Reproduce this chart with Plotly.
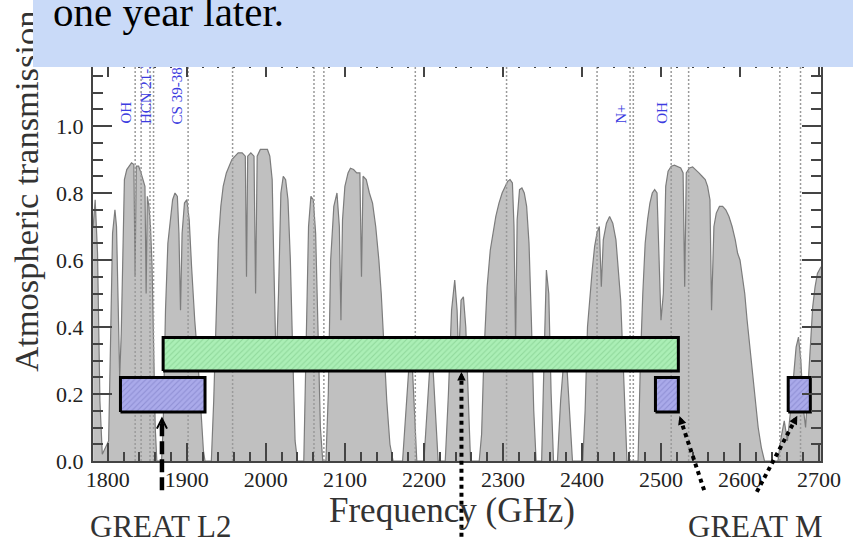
import plotly.graph_objects as go

# ---------------- data ----------------
freq = [1781.5, 1784, 1787, 1790, 1793, 1797, 1801, 1803, 1806, 1809, 1811, 1813, 1815, 1817,
        1819, 1821, 1824, 1827, 1830, 1833, 1834.5, 1836, 1839, 1842, 1845, 1847, 1848.5, 1850,
        1852, 1854, 1856, 1858, 1860, 1862, 1868, 1870, 1873, 1876, 1879, 1882, 1885, 1888,
        1890, 1892, 1894, 1897, 1900, 1903, 1906, 1910, 1914, 1918, 1921, 1923, 1931, 1934,
        1937, 1940, 1943, 1946, 1950, 1953, 1957, 1961, 1965, 1970, 1974, 1975.5, 1977, 1981,
        1985, 1987, 1989, 1993, 1998, 2002, 2005, 2008, 2010, 2013, 2016, 2019, 2022, 2025,
        2028, 2031, 2034, 2037, 2040, 2048, 2051, 2054, 2057, 2060, 2063, 2066, 2069, 2072,
        2076, 2079, 2082, 2086, 2090, 2093, 2095, 2097, 2100, 2104, 2107, 2111, 2115, 2119,
        2121, 2123, 2127, 2131, 2135, 2139, 2143, 2146, 2149, 2153, 2157, 2161, 2173, 2177,
        2181, 2185, 2188, 2191, 2200, 2204, 2208, 2211, 2215, 2218, 2227, 2231, 2235, 2239,
        2242, 2244, 2247, 2250, 2253, 2256, 2259, 2270, 2273, 2276, 2280, 2284, 2287, 2291,
        2295, 2299, 2303, 2306, 2309, 2312, 2314, 2316, 2318, 2321, 2324, 2327, 2330, 2333,
        2336, 2339, 2342, 2349, 2352, 2355, 2358, 2361, 2364, 2369, 2373, 2377, 2381, 2385,
        2388, 2401, 2404, 2407, 2410, 2413, 2416, 2419, 2422, 2424.5, 2427, 2431, 2435, 2439,
        2443, 2446, 2449, 2452, 2455, 2457, 2471, 2474, 2477, 2480, 2483, 2486, 2489, 2492,
        2495, 2497, 2500, 2503, 2506, 2509, 2513, 2517, 2521, 2525, 2528, 2530, 2532, 2536,
        2540, 2544, 2548, 2552, 2556, 2559, 2562, 2564, 2567, 2570, 2574, 2578, 2582, 2586,
        2590, 2594, 2597, 2600, 2603, 2606, 2609, 2612, 2615, 2619, 2623, 2627, 2631, 2648,
        2652, 2656, 2660, 2664, 2668, 2671, 2674, 2677, 2680, 2683, 2686, 2689, 2692, 2695,
        2698, 2702.5]
trans = [0.70, 0.78, 0.62, 0.18, 0.02, 0.04, 0.06, 0.30, 0.68, 0.75, 0.70, 0.48, 0.25, 0.38,
         0.66, 0.84, 0.87, 0.88, 0.89, 0.885, 0.55, 0.88, 0.88, 0.86, 0.84, 0.82, 0.50, 0.79,
         0.76, 0.70, 0.58, 0.35, 0.10, 0.0, 0.0, 0.10, 0.45, 0.65, 0.72, 0.78, 0.80, 0.79,
         0.68, 0.45, 0.68, 0.77, 0.78, 0.72, 0.58, 0.42, 0.30, 0.15, 0.03, 0.0, 0.0, 0.18,
         0.42, 0.66, 0.76, 0.82, 0.86, 0.88, 0.90, 0.91, 0.92, 0.92, 0.91, 0.55, 0.91, 0.92,
         0.91, 0.50, 0.91, 0.93, 0.93, 0.93, 0.91, 0.84, 0.60, 0.28, 0.50, 0.80, 0.85, 0.84,
         0.78, 0.60, 0.32, 0.06, 0.0, 0.0, 0.35, 0.70, 0.79, 0.78, 0.68, 0.40, 0.10, 0.0,
         0.0, 0.20, 0.60, 0.76, 0.80, 0.70, 0.42, 0.72, 0.82, 0.86, 0.874, 0.87, 0.86, 0.86,
         0.55, 0.85, 0.84, 0.80, 0.77, 0.70, 0.60, 0.50, 0.36, 0.18, 0.05, 0.0, 0.0, 0.14,
         0.28, 0.30, 0.14, 0.0, 0.0, 0.15, 0.30, 0.30, 0.12, 0.0, 0.0, 0.20, 0.45, 0.54,
         0.45, 0.30, 0.48, 0.49, 0.40, 0.20, 0.0, 0.0, 0.08, 0.32, 0.52, 0.63, 0.67, 0.73,
         0.77, 0.80, 0.82, 0.835, 0.84, 0.83, 0.70, 0.35, 0.72, 0.81, 0.815, 0.80, 0.76, 0.65,
         0.42, 0.15, 0.0, 0.0, 0.30, 0.57, 0.50, 0.20, 0.0, 0.0, 0.18, 0.30, 0.28, 0.10,
         0.0, 0.0, 0.15, 0.40, 0.50, 0.57, 0.64, 0.68, 0.70, 0.52, 0.66, 0.71, 0.73, 0.71,
         0.66, 0.58, 0.48, 0.30, 0.08, 0.0, 0.0, 0.30, 0.50, 0.65, 0.72, 0.77, 0.80, 0.81,
         0.80, 0.66, 0.42, 0.50, 0.82, 0.865, 0.88, 0.883, 0.88, 0.875, 0.86, 0.52, 0.86, 0.875,
         0.878, 0.87, 0.86, 0.85, 0.84, 0.82, 0.78, 0.45, 0.70, 0.74, 0.76, 0.76, 0.75, 0.73,
         0.70, 0.66, 0.62, 0.60, 0.55, 0.50, 0.42, 0.35, 0.28, 0.18, 0.10, 0.04, 0.0, 0.0,
         0.07, 0.12, 0.06, 0.15, 0.26, 0.34, 0.37, 0.30, 0.16, 0.10, 0.22, 0.36, 0.46, 0.52,
         0.56, 0.58]

line_freqs = [1834.6, 1842.1, 1853.4, 1857.9, 1901.6, 1957.9, 2060.9, 2073.4, 2189.1,
              2304.6, 2419.1, 2460.9, 2465.0, 2512.9, 2535.0, 2650.4, 2676.6]

species_names = ["OH", "HCN 21-20", "CS 39-38", "N+", "OH"]
species_freqs = [1822.5, 1848.4, 1887.5, 2448.5, 2501.0]

l2_band = [1816, 1923]
green_band = [1870, 2522]
m_bands = [[2493, 2522], [2661, 2689]]

x_ticks = [1800, 1900, 2000, 2100, 2200, 2300, 2400, 2500, 2600, 2700]
y_ticks = [0.0, 0.2, 0.4, 0.6, 0.8, 1.0]
y_ticktext = ["0.0", "0.2", "0.4", "0.6", "0.8", "1.0"]

# ---------------- layout constants ----------------
W, H = 853, 540
ML, MR, MT, MB = 93, 23, 59, 79
PW, PH = W - ML - MR, H - MT - MB
X_RANGE = [1781.25, 2702.5]
Y_RANGE = [0.0, 1.2]
XS = PW / (X_RANGE[1] - X_RANGE[0])
YS = PH / (Y_RANGE[1] - Y_RANGE[0])

BLUE_Y = (0.146, 0.249)
GREEN_Y = (0.269, 0.369)

FONT = "Liberation Serif"


def paper_x(px):
    return (px - ML) / PW


def paper_y(py):
    return (H - MB - py) / PH


def data_to_paper_y(t):
    return (t - Y_RANGE[0]) / (Y_RANGE[1] - Y_RANGE[0])


fig = go.Figure()

# spectrum
fig.add_trace(go.Scatter(x=freq, y=trans, mode="lines", fill="tozeroy",
                         fillcolor="#c0c0c0", line=dict(color="#7c7c7c", width=1.2),
                         hoverinfo="skip"))

# dotted line markers
lx, ly = [], []
for f in line_freqs:
    lx += [f, f, None]
    ly += [Y_RANGE[0], Y_RANGE[1], None]
fig.add_trace(go.Scatter(x=lx, y=ly, mode="lines",
                         line=dict(color="#9a9a9a", width=1.5, dash="2px,2px"),
                         hoverinfo="skip"))


def box_trace(band, ylev, bg, fg):
    x0, x1 = band
    y0, y1 = ylev
    return go.Scatter(x=[x0, x1, x1, x0, x0], y=[y0, y0, y1, y1, y0], mode="lines",
                      fill="toself", fillcolor=bg,
                      fillpattern=dict(shape="/", size=4, solidity=0.25,
                                       fgcolor=fg, bgcolor=bg, fillmode="replace"),
                      line=dict(color="black", width=3), hoverinfo="skip")


fig.add_trace(box_trace(green_band, GREEN_Y, "#abefb6", "#8fd89b"))
fig.add_trace(box_trace(l2_band, BLUE_Y, "#aaaaea", "#8e8ed4"))
for b in m_bands:
    fig.add_trace(box_trace(b, BLUE_Y, "#aaaaea", "#8e8ed4"))

# arrows: (tail_f, tail_t, head_f, head_t, style)
arrows = [
    (1868.5, -0.087, 1868.5, 0.133, "dash"),
    (2247.5, -0.25, 2247.5, 0.266, "dot"),
    (2554.6, -0.087, 2523.4, 0.134, "dot"),
    (2621.3, -0.092, 2672.5, 0.135, "dot"),
]

shapes = []
annotations = []
for tf, tt, hf, ht, style in arrows:
    if style == "dash":
        ln = dict(color="black", width=4.5, dash="13px,5px")
    else:
        ln = dict(color="black", width=4, dash="4px,4px")
    dxp = (tf - hf) * XS
    dyp = (ht - tt) * YS
    L = (dxp ** 2 + dyp ** 2) ** 0.5
    back = 4.0 / L
    sf = hf + (tf - hf) * back
    st = ht + (tt - ht) * back
    shapes.append(dict(type="line", xref="x", yref="paper", x0=tf, y0=data_to_paper_y(tt),
                       x1=sf, y1=data_to_paper_y(st), line=ln, layer="above"))
    head_len = 9.0
    annotations.append(dict(x=hf, y=ht, xref="x", yref="y", text="", showarrow=True,
                            ax=dxp / L * head_len, ay=dyp / L * head_len,
                            arrowhead=5 if style == "dash" else 2,
                            arrowsize=0.9 if style == "dash" else 0.85,
                            arrowwidth=2.2 if style == "dash" else 2,
                            arrowcolor="black", standoff=0))

# axis title (y) as annotation
annotations.append(dict(text="Atmospheric transmission", textangle=-90, showarrow=False,
                        xref="paper", yref="paper", x=paper_x(25), y=paper_y(191),
                        xanchor="center", yanchor="middle",
                        font=dict(family=FONT, size=34.5, color="#333333")))

# species labels
for name, f in zip(species_names, species_freqs):
    annotations.append(dict(text=name, textangle=-90, showarrow=False, xref="x", yref="y",
                            x=f, y=1.0, xanchor="center", yanchor="bottom",
                            font=dict(family=FONT, size=15, color="#3c3ce0")))

annotations.append(dict(text="Frequency (GHz)", showarrow=False, xref="paper", yref="paper",
                        x=paper_x(456), y=paper_y(510), xanchor="center", yanchor="middle",
                        font=dict(family=FONT, size=35, color="#333333")))
annotations.append(dict(text="GREAT L2", showarrow=False, xref="paper", yref="paper",
                        x=paper_x(162), y=paper_y(526), xanchor="center", yanchor="middle",
                        font=dict(family=FONT, size=31, color="#333333")))
annotations.append(dict(text="GREAT M", showarrow=False, xref="paper", yref="paper",
                        x=paper_x(764), y=paper_y(526), xanchor="center", yanchor="middle",
                        font=dict(family=FONT, size=31, color="#333333")))

# slide text box on top
annotations.append(dict(text="&nbsp;", showarrow=False, xref="paper", yref="paper",
                        x=paper_x(32), y=paper_y(0), xanchor="left", yanchor="top",
                        width=W - 32, height=67, bgcolor="#c9daf8", borderpad=0,
                        borderwidth=0, font=dict(family=FONT, size=10)))
annotations.append(dict(text="one year later.", showarrow=False, xref="paper", yref="paper",
                        x=paper_x(50), y=paper_y(12), xanchor="left", yanchor="middle",
                        font=dict(family=FONT, size=41, color="black")))

axis_common = dict(showline=True, linewidth=2, linecolor="#444444", ticks="inside",
                   tickcolor="#444444", tickwidth=1.5, showgrid=False, zeroline=False,
                   tickfont=dict(family=FONT, size=22, color="#222222"))

fig.update_layout(
    width=W, height=H, margin=dict(l=ML, r=MR, t=MT, b=MB),
    paper_bgcolor="white", plot_bgcolor="white", showlegend=False,
    xaxis=dict(range=X_RANGE, tickmode="array", tickvals=x_ticks, ticklen=18,
               ticklabelstandoff=-2,
               minor=dict(dtick=20, tick0=1800, ticks="inside", ticklen=9,
                          tickwidth=1.5, tickcolor="#444444"),
               mirror="allticks", **axis_common),
    yaxis=dict(range=Y_RANGE, tickmode="array", tickvals=y_ticks, ticktext=y_ticktext,
               ticklen=19, ticklabelstandoff=3,
               minor=dict(dtick=0.05, tick0=0, ticks="inside", ticklen=10,
                          tickwidth=1.5, tickcolor="#444444"),
               mirror="allticks", **axis_common),
    shapes=shapes, annotations=annotations,
)

fig.write_html("out.html", config={"displayModeBar": False},
               post_script="document.body.style.margin='0px';"
                           "document.body.style.overflow='hidden';")
